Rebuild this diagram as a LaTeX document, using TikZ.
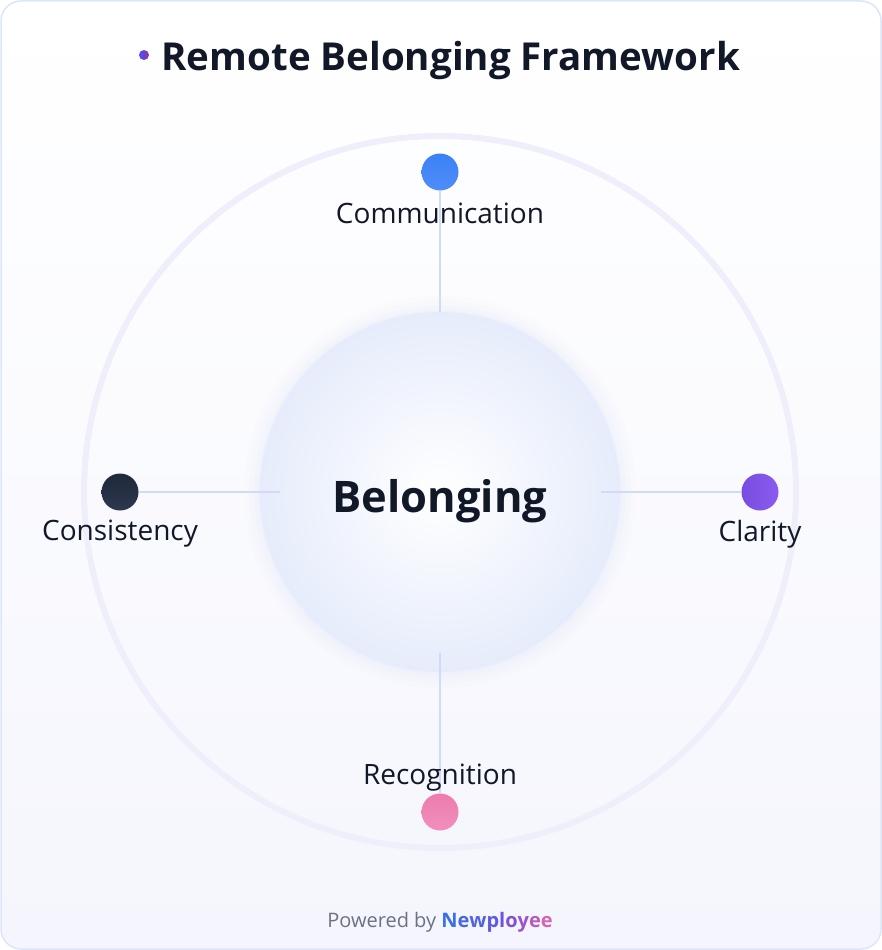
\documentclass[tikz,border=0pt]{standalone}
\usepackage{fontspec}
\setmainfont{Open Sans}
\usepackage{tikz}
\usetikzlibrary{shapes,arrows,positioning,fit,backgrounds}
\usepackage{xcolor}
\definecolor{cardline}{HTML}{DCE6F8}
\definecolor{cardbot}{HTML}{F5F6FD}
\definecolor{ringcol}{HTML}{EFEEFB}
\definecolor{spokecol}{HTML}{D0DBF8}
\definecolor{hubedge}{HTML}{E6ECFB}
\definecolor{inkdark}{HTML}{111827}
\definecolor{footgray}{HTML}{6B7280}

\begin{document}
\begin{tikzpicture}[x=1pt,y=-1pt]
      \tikzstyle{pillar} = [circle, minimum size=37pt, inner sep=0pt]
      \tikzstyle{pillarlabel} = [font=\fontsize{28}{31}\selectfont, text=inkdark, inner sep=0pt]
      \tikzstyle{spoke} = [line width=2.5pt, spokecol]

      \useasboundingbox (0,0) rectangle (882,950);
      \draw[cardline, line width=1.5pt, rounded corners=20pt, top color=white, bottom color=cardbot] (1,1) rectangle (881,949);

      \node[circle, minimum size=10pt, inner sep=0pt, left color=blue!70!white, right color=violet!80!white] (tdot) at (144,55) {};
      \node[font=\fontsize{38.5}{42}\selectfont\bfseries, text=inkdark, anchor=west] (title) at (158,60) {Remote Belonging Framework};

      \node[circle, draw=ringcol, line width=6pt, minimum size=712pt] (ring) at (440,492) {};

      \foreach \r/\o in {196/0.08, 191/0.12, 186/0.18, 182/0.25}
        \fill[hubedge, opacity=\o] (440,492) circle (\r);
      \node[circle, minimum size=360pt, inner sep=0pt, inner color=white, outer color=hubedge] (belong) at (440,492) {};
      \node[font=\fontsize{43.5}{48}\selectfont\bfseries, text=inkdark] (hub) at (440,501) {Belonging};

      \node[pillar, top color={rgb,255:red,59;green,130;blue,246}, bottom color={rgb,255:red,80;green,140;blue,247}] (comm) at (440,172) {};
      \node[pillar, top color={rgb,255:red,30;green,41;blue,59}, bottom color={rgb,255:red,45;green,55;blue,78}] (cons) at (120,492) {};
      \node[pillar, left color={rgb,255:red,120;green,76;blue,224}, right color={rgb,255:red,140;green,92;blue,240}] (clar) at (760,492) {};
      \node[pillar, top color={rgb,255:red,236;green,124;blue,174}, bottom color={rgb,255:red,242;green,143;blue,188}] (recog) at (440,812) {};

      \draw[spoke] (comm) -- (belong);
      \draw[spoke, shorten >=-20pt] (cons) -- (belong);
      \draw[spoke, shorten >=-19pt] (clar) -- (belong);
      \draw[spoke, shorten >=-19pt] (recog) -- (belong);

      \node[pillarlabel] (commlabel) at (440,213) {Communication};
      \node[pillarlabel] (conslabel) at (120,534) {Consistency};
      \node[pillarlabel] (clarlabel) at (760,534) {Clarity};
      \node[pillarlabel] (recoglabel) at (440,778) {Recognition};

      \node[font=\fontsize{20}{23}\selectfont] (footer) at (440,922) {\textcolor{footgray}{Powered by} \textbf{\textcolor[HTML]{3B6FE8}{N}\textcolor[HTML]{4568E6}{e}\textcolor[HTML]{5261E3}{w}\textcolor[HTML]{6058E0}{p}\textcolor[HTML]{7052DC}{l}\textcolor[HTML]{8150D6}{o}\textcolor[HTML]{9A55CC}{y}\textcolor[HTML]{B85BBE}{e}\textcolor[HTML]{D664AE}{e}}};
    \end{tikzpicture}
\end{document}
